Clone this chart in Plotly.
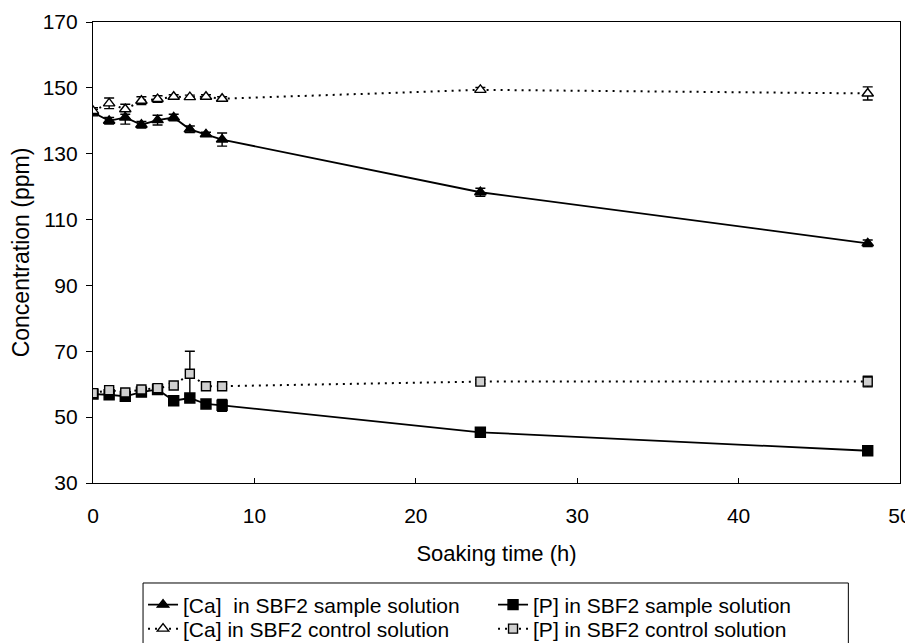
import plotly.graph_objects as go

time_h = [0, 1, 2, 3, 4, 5, 6, 7, 8, 24, 48]

ca_sample = [142.5, 140.0, 141.0, 138.8, 140.2, 141.0, 137.4, 135.9, 134.3, 118.3, 102.8]
ca_sample_err = [1.0, 1.0, 2.0, 1.0, 1.5, 1.0, 1.0, 0.6, 2.0, 1.2, 1.0]

ca_control = [143.0, 145.3, 143.5, 146.1, 146.6, 147.3, 147.2, 147.3, 146.7, 149.4, 148.3]
ca_control_err = [1.0, 1.6, 1.5, 1.2, 1.0, 0.6, 0.6, 0.6, 0.6, 0.7, 2.0]

p_sample = [57.0, 56.8, 56.3, 57.6, 58.4, 55.0, 55.8, 54.0, 53.6, 45.4, 39.8]
p_sample_err = [0.8, 0.8, 1.3, 0.8, 0.8, 0.8, 1.0, 0.6, 1.8, 0.8, 0.6]

p_control = [57.3, 58.2, 57.5, 58.4, 58.8, 59.6, 63.2, 59.4, 59.4, 60.8, 60.8]
p_control_err = [0.8, 0.8, 1.0, 0.8, 1.0, 0.6, 6.8, 0.6, 0.6, 0.6, 1.6]

x_ticks = [0, 10, 20, 30, 40, 50]
y_ticks = [30, 50, 70, 90, 110, 130, 150, 170]

fig = go.Figure()

def add(name, y, err, symbol, fill, dash, legend, size):
    fig.add_trace(go.Scatter(
        x=time_h, y=y, name=name, mode="lines+markers",
        line=dict(color="black", width=1.8 if dash == "solid" else 2.0, dash=dash),
        marker=dict(symbol=symbol, size=size, color=fill, line=dict(color="black", width=1.4)),
        error_y=dict(type="data", array=err, visible=True, color="black", thickness=1.4, width=5),
        legend=legend,
    ))

add("[Ca]\u00a0 in SBF2 sample solution", ca_sample, ca_sample_err, "triangle-up", "black", "solid", "legend", 10)
add("[P] in SBF2 sample solution", p_sample, p_sample_err, "square", "black", "solid", "legend", 10)
add("[Ca] in SBF2 control solution", ca_control, ca_control_err, "triangle-up", "white", "2px,5px", "legend2", 10)
add("[P] in SBF2 control solution", p_control, p_control_err, "square", "#d0d0d0", "2px,5px", "legend2", 9)

font = "Liberation Sans, Arial, sans-serif"

leg_common = dict(
    orientation="h", x=0.062, xanchor="left", yanchor="middle",
    borderwidth=0, bgcolor="rgba(0,0,0,0)",
    font=dict(size=21, family=font), entrywidth=305, tracegroupgap=0,
    traceorder="normal",
)

fig.update_layout(
    width=905, height=635,
    margin=dict(l=85, r=13, t=14, b=160, autoexpand=False),
    paper_bgcolor="white", plot_bgcolor="white",
    font=dict(family=font, color="black", size=21),
    showlegend=True,
    legend=dict(y=-0.2646, **leg_common),
    legend2=dict(y=-0.3167, **leg_common),
    shapes=[dict(
        type="rect", xref="paper", yref="paper",
        x0=0.062, x1=0.936, y0=-0.2169, y1=-0.40,
        line=dict(color="black", width=1), fillcolor="rgba(0,0,0,0)", layer="below",
    )],
    xaxis=dict(
        range=[0, 50], tickvals=x_ticks, ticks="inside", ticklen=5, tickcolor="black",
        showline=True, linecolor="black", linewidth=1.2, mirror=True, showgrid=False,
        zeroline=False, automargin=False, ticklabelstandoff=14,
        title=dict(text="Soaking time (h)", font=dict(size=22), standoff=19),
        tickfont=dict(size=21),
    ),
    yaxis=dict(
        range=[30, 170], tickvals=y_ticks, ticks="outside", ticklen=6, tickcolor="black",
        showline=True, linecolor="black", linewidth=1.2, mirror=True, showgrid=False,
        zeroline=False, automargin=False, ticklabelstandoff=4,
        title=dict(text="Concentration (ppm)", font=dict(size=23), standoff=10),
        tickfont=dict(size=21),
    ),
)

fig.write_html("out.html")
